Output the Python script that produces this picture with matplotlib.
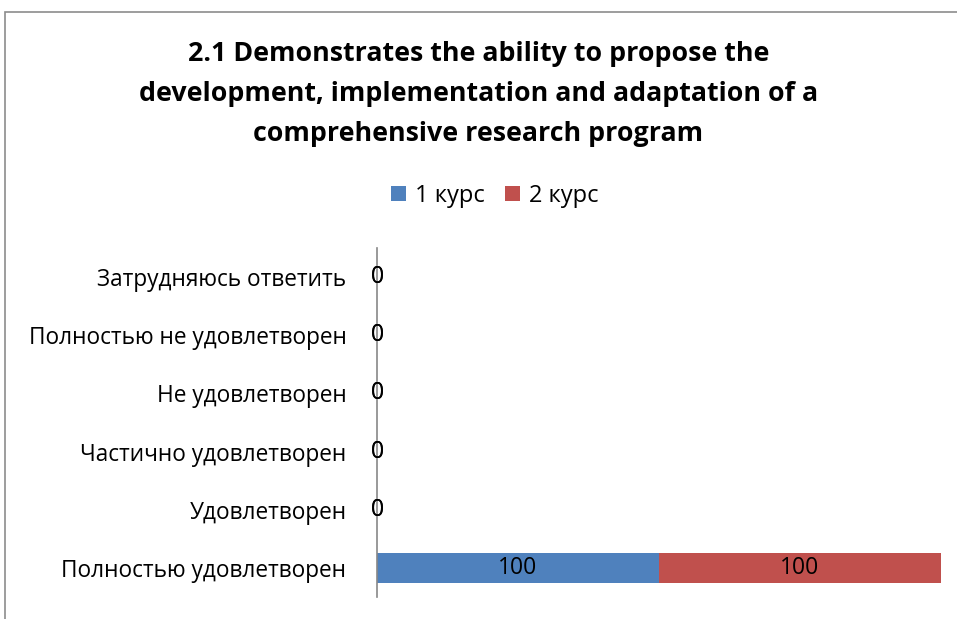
import matplotlib
matplotlib.use("Agg")
import matplotlib.pyplot as plt
from matplotlib.patches import Rectangle
import numpy as np

categories = ["Полностью удовлетворен", "Удовлетворен", "Частично удовлетворен",
              "Не удовлетворен", "Полностью не удовлетворен", "Затрудняюсь ответить"]
course1 = [100, 0, 0, 0, 0, 0]
course2 = [100, 0, 0, 0, 0, 0]
series_names = ["1 курс", "2 курс"]
colors = ["#4F81BD", "#C0504D"]
title = "2.1 Demonstrates the ability to propose the\ndevelopment, implementation and adaptation of a\ncomprehensive research program"

plt.rcParams['font.family'] = ['Open Sans', 'DejaVu Sans']

fig = plt.figure(figsize=(9.57, 6.19), dpi=100)
ax = fig.add_axes([377/957, 1-597/619, (941-377)/957, (597-248)/619])

y = np.arange(len(categories))
b1 = ax.barh(y, course1, height=0.52, color=colors[0], label=series_names[0])
b2 = ax.barh(y, course2, left=course1, height=0.52, color=colors[1], label=series_names[1])
for bars in (b1, b2):
    ax.bar_label(bars, labels=[str(v) for v in bars.datavalues], label_type='center', fontsize=16.5)

ax.set_xlim(0, 200)
ax.set_ylim(-0.5, len(categories) - 0.5)
ax.set_yticks(y)
ax.set_yticklabels(categories, fontsize=16.3)
ax.tick_params(axis='y', length=0, pad=22)
ax.set_xticks([])
for s in ['top', 'right', 'bottom']:
    ax.spines[s].set_visible(False)
ax.spines['left'].set_color('#878787')
ax.spines['left'].set_linewidth(1.2)

fig.text(0.5, 1-94/619, title, ha='center', va='center', fontsize=19.3, fontweight='bold',
         linespacing=1.68)

leg = fig.legend(handles=[b1, b2], loc='center', bbox_to_anchor=(495/957, 1-196/619), ncol=2,
                 frameon=False, fontsize=17, handlelength=0.62, handleheight=0.62,
                 handletextpad=0.4, columnspacing=0.85)

# chart border
fig.add_artist(Rectangle((5/957, -0.1), 1.2, 1.1 - 12/619, transform=fig.transFigure,
                         fill=False, edgecolor='#8c8c8c', linewidth=1.2))

fig.savefig("out.png", dpi=100)
